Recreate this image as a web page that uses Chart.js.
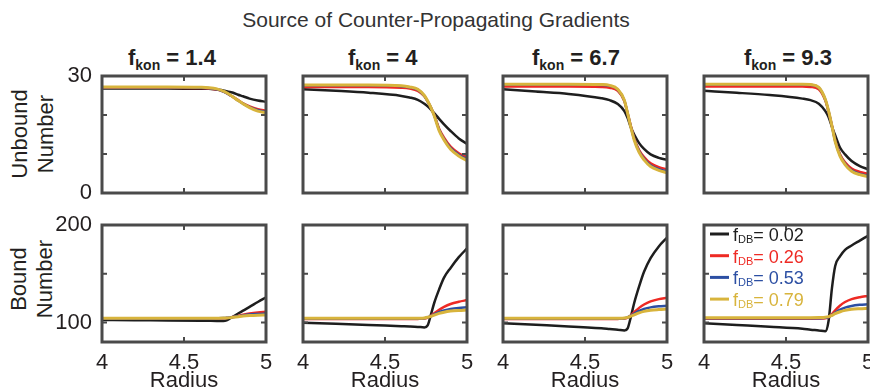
<!DOCTYPE html>
<html>
<head>
<meta charset="utf-8">
<script src="https://cdn.jsdelivr.net/npm/chart.js@4/dist/chart.umd.min.js"></script>
<style>
  html, body { margin: 0; padding: 0; background: #fff; overflow: hidden; }
  body { width: 870px; height: 390px; position: relative; font-family: "Liberation Sans", Arial, Helvetica, sans-serif; color: #231f20; }
  canvas { position: absolute; }
  .txt { position: absolute; font-size: 22px; line-height: 22px; white-space: nowrap; }
  .ptitle { font-weight: bold; }
  .ptitle span { font-size: 14px; position: relative; top: 5px; }
  .ylab { position: absolute; width: 170px; height: 52px; font-size: 22px; line-height: 26px; text-align: center; transform: rotate(-90deg); }
</style>
</head>
<body>
<div class="txt" style="left:0; width:872px; text-align:center; top:9px; font-size:21px; color:#333;">Source of Counter-Propagating Gradients</div>
<div class="ylab" style="left:-52px; top:108px;">Unbound<br>Number</div>
<div class="ylab" style="left:-53px; top:253px;">Bound<br>Number</div>
<div id="titles"></div>

<script>
// shared x values
const radius = [4, 4.2, 4.4, 4.6, 4.65, 4.7, 4.74, 4.76, 4.78, 4.8, 4.83, 4.86, 4.9, 4.95, 5];
const radiusTicks = [4, 4.5, 5];

const fkonValues = ['1.4', '4', '6.7', '9.3'];
const fdbValues = ['0.02', '0.26', '0.53', '0.79'];

const unboundTicks = [0, 10, 20, 30];
const unboundLabels = [0, 30];
const boundTicks = [100, 150, 200];
const boundLabels = [100, 200];

// unbound number, series order: fDB 0.02, 0.26, 0.53, 0.79
const unboundK14 = [
  [26.8, 26.8, 26.8, 26.7, 26.7, 26.5, 26.3, 26.1, 25.9, 25.7, 25.2, 24.8, 24.2, 23.7, 23.4],
  [27.0, 27.0, 27.0, 26.9, 26.8, 26.5, 26.0, 25.6, 25.1, 24.6, 23.8, 23.0, 22.2, 21.5, 21.1],
  [27.1, 27.1, 27.1, 27.0, 26.9, 26.6, 26.0, 25.6, 25.1, 24.6, 23.7, 22.9, 22.0, 21.2, 20.8],
  [27.2, 27.2, 27.2, 27.1, 27.0, 26.7, 26.1, 25.7, 25.2, 24.6, 23.7, 22.9, 21.9, 21.0, 20.6]
];
const unboundK4 = [
  [26.6, 26.2, 25.7, 24.9, 24.5, 23.9, 22.9, 22.2, 21.4, 20.5, 19.0, 17.6, 15.9, 14.0, 12.6],
  [27.2, 27.2, 27.2, 27.0, 26.8, 26.2, 24.8, 23.5, 21.9, 20.0, 16.5, 14.2, 11.9, 10.2, 9.2],
  [27.6, 27.6, 27.6, 27.4, 27.1, 26.5, 24.9, 23.5, 21.9, 19.9, 16.2, 13.8, 11.5, 9.8, 8.6],
  [27.7, 27.7, 27.7, 27.5, 27.2, 26.6, 25.0, 23.6, 21.9, 19.8, 16.0, 13.6, 11.2, 9.5, 8.3]
];
const unboundK67 = [
  [26.6, 26.0, 25.4, 24.3, 23.8, 22.8, 21.0, 19.2, 16.8, 15.0, 12.8, 11.3, 9.9, 9.0, 8.5],
  [27.3, 27.3, 27.3, 27.2, 27.0, 26.2, 23.6, 20.4, 17.1, 14.0, 11.0, 9.2, 7.6, 6.6, 6.1],
  [27.8, 27.8, 27.8, 27.7, 27.5, 26.5, 23.7, 20.4, 16.9, 13.8, 10.7, 8.8, 7.1, 6.1, 5.5],
  [27.9, 27.9, 27.9, 27.8, 27.6, 26.6, 23.8, 20.4, 16.8, 13.6, 10.4, 8.5, 6.8, 5.8, 5.2]
];
const unboundK93 = [
  [26.2, 25.7, 25.1, 24.2, 23.8, 22.9, 21.0, 19.4, 17.0, 14.8, 11.6, 9.9, 8.2, 6.9, 6.1],
  [27.3, 27.3, 27.3, 27.3, 27.2, 26.6, 23.7, 20.8, 17.3, 13.5, 9.9, 7.9, 6.3, 5.4, 4.9],
  [27.8, 27.8, 27.8, 27.8, 27.7, 27.0, 23.9, 20.9, 17.2, 13.3, 9.6, 7.5, 5.8, 4.9, 4.4],
  [27.9, 27.9, 27.9, 27.9, 27.8, 27.1, 24.0, 21.0, 17.2, 13.2, 9.4, 7.3, 5.6, 4.7, 4.2]
];

// bound number
const boundK14 = [
  [102.6, 102.3, 102.1, 101.8, 101.7, 101.6, 101.5, 102.2, 104.2, 106.2, 109.2, 112.1, 116.0, 121.0, 125.8],
  [104.0, 104.0, 104.0, 104.0, 104.0, 104.1, 104.3, 104.6, 105.0, 105.6, 106.7, 107.9, 109.2, 110.3, 111.0],
  [104.2, 104.2, 104.2, 104.2, 104.2, 104.3, 104.5, 104.8, 105.1, 105.6, 106.4, 107.3, 108.2, 108.8, 109.2],
  [104.3, 104.3, 104.3, 104.3, 104.3, 104.4, 104.5, 104.7, 105.0, 105.4, 106.0, 106.6, 107.1, 107.5, 107.7]
];
const boundK4 = [
  [99.8, 98.6, 97.4, 96.2, 95.9, 95.5, 95.0, 97.0, 108.0, 120.0, 134.0, 146.0, 156.0, 167.0, 176.0],
  [103.6, 103.6, 103.6, 103.6, 103.6, 103.7, 104.0, 105.0, 107.0, 109.5, 113.0, 116.0, 119.0, 121.3, 123.0],
  [104.0, 104.0, 104.0, 104.0, 104.0, 104.1, 104.4, 105.2, 106.6, 108.3, 110.6, 112.3, 113.9, 115.0, 115.6],
  [104.3, 104.3, 104.3, 104.3, 104.3, 104.4, 104.7, 105.3, 106.3, 107.6, 109.3, 110.6, 111.7, 112.4, 112.8]
];
const boundK67 = [
  [99.2, 97.6, 96.0, 94.0, 93.3, 92.6, 91.8, 94.0, 106.0, 120.0, 137.0, 152.0, 166.0, 178.0, 187.0],
  [103.6, 103.6, 103.6, 103.6, 103.6, 103.7, 104.0, 105.0, 107.5, 110.5, 115.0, 118.5, 121.7, 124.0, 125.4],
  [104.0, 104.0, 104.0, 104.0, 104.0, 104.1, 104.4, 105.3, 107.0, 109.0, 111.8, 113.8, 115.5, 116.6, 117.2],
  [104.3, 104.3, 104.3, 104.3, 104.3, 104.4, 104.7, 105.3, 106.5, 107.9, 109.9, 111.4, 112.6, 113.3, 113.8]
];
const boundK93 = [
  [99.2, 97.4, 95.6, 93.6, 92.6, 91.8, 91.0, 102.0, 135.0, 158.0, 168.0, 174.5, 179.0, 184.0, 189.0],
  [103.9, 103.9, 103.9, 103.9, 103.9, 104.0, 104.4, 105.5, 108.5, 112.5, 117.5, 121.0, 124.0, 126.0, 127.2],
  [104.3, 104.3, 104.3, 104.3, 104.3, 104.4, 104.8, 105.6, 107.6, 110.0, 113.2, 115.3, 117.0, 118.1, 118.7],
  [105.0, 105.0, 105.0, 105.0, 105.0, 105.1, 105.4, 106.0, 107.4, 109.0, 111.0, 112.4, 113.5, 114.1, 114.5]
];

const unboundSets = [unboundK14, unboundK4, unboundK67, unboundK93];
const boundSets = [boundK14, boundK4, boundK67, boundK93];

// styling
const lineColors = ['#1e1e1e', '#ee2a24', '#2c4fa3', '#d8b43c'];
const lineWidths = [2.5, 2.5, 2.5, 3];
const FONT = "'Liberation Sans', Arial, Helvetica, sans-serif";
const TXT = '#231f20';
const colLeft = [102, 303, 503, 704];
const titleLeft = [128, 348, 532, 744];
const PW = 164, PH = 117;
const rowTop = [76, 225];
const YW = 70, PR = 20, PT = 24;

// panel titles f_kon = ...
const titles = document.getElementById('titles');
fkonValues.forEach((k, i) => {
  const d = document.createElement('div');
  d.className = 'txt ptitle';
  d.style.left = titleLeft[i] + 'px';
  d.style.top = '47px';
  d.innerHTML = 'f<span>kon</span> = ' + k;
  titles.appendChild(d);
});

// box round the plot area + inward tick marks
const boxPlugin = {
  id: 'box',
  afterDatasetsDraw(chart) {
    const { ctx, chartArea: a, scales: { x, y } } = chart;
    ctx.save();
    ctx.strokeStyle = '#4a4a4a';
    ctx.lineWidth = 2;
    ctx.beginPath();
    x.ticks.forEach(t => {
      const px = x.getPixelForValue(t.value);
      ctx.moveTo(px, a.bottom); ctx.lineTo(px, a.bottom - 5);
      ctx.moveTo(px, a.top); ctx.lineTo(px, a.top + 5);
    });
    y.ticks.forEach(t => {
      const py = y.getPixelForValue(t.value);
      ctx.moveTo(a.left, py); ctx.lineTo(a.left + 5, py);
      ctx.moveTo(a.right, py); ctx.lineTo(a.right - 5, py);
    });
    ctx.stroke();
    ctx.lineWidth = 3;
    ctx.strokeRect(a.left, a.top, a.right - a.left, a.bottom - a.top);
    ctx.restore();
  }
};

// f_DB legend, drawn from the datasets
const legendPlugin = {
  id: 'dbLegend',
  afterDraw(chart) {
    const { ctx, chartArea: a } = chart;
    ctx.save();
    chart.data.datasets.forEach((ds, i) => {
      const yc = a.top + 9 + i * 21.7;
      ctx.strokeStyle = ds.borderColor;
      ctx.lineWidth = 3;
      ctx.beginPath();
      ctx.moveTo(a.left + 6, yc);
      ctx.lineTo(a.left + 25, yc);
      ctx.stroke();
      ctx.fillStyle = ds.borderColor;
      ctx.textBaseline = 'alphabetic';
      const base = yc + 7;
      let x = a.left + 29;
      ctx.font = '18px ' + FONT;
      ctx.fillText('f', x, base);
      x += ctx.measureText('f').width;
      ctx.font = '11px ' + FONT;
      ctx.fillText('DB', x, base + 2);
      x += ctx.measureText('DB').width;
      ctx.font = '18px ' + FONT;
      ctx.fillText('= ' + ds.label, x, base);
    });
    ctx.restore();
  }
};

function makePanel(col, row, series) {
  const bottomRow = row === 1;
  const showY = col === 0;
  const XH = bottomRow ? 52 : 24;
  const cv = document.createElement('canvas');
  cv.width = YW + PW + PR;
  cv.height = PT + PH + XH;
  cv.style.left = (colLeft[col] - YW) + 'px';
  cv.style.top = (rowTop[row] - PT) + 'px';
  document.body.appendChild(cv);

  const yTicks = bottomRow ? boundTicks : unboundTicks;
  const yLabels = bottomRow ? boundLabels : unboundLabels;

  const plugins = [boxPlugin];
  if (bottomRow && col === 3) plugins.push(legendPlugin);

  new Chart(cv, {
    type: 'line',
    data: {
      datasets: series.map((vals, i) => ({
        label: fdbValues[i],
        data: radius.map((r, j) => ({ x: r, y: vals[j] })),
        borderColor: lineColors[i],
        borderWidth: lineWidths[i],
        pointRadius: 0,
        cubicInterpolationMode: 'monotone',
        order: 3 - i
      }))
    },
    options: {
      responsive: false,
      animation: false,
      devicePixelRatio: 1,
      layout: { padding: { left: 0, right: PR, top: PT, bottom: 0 } },
      plugins: { legend: { display: false }, tooltip: { enabled: false } },
      scales: {
        x: {
          type: 'linear',
          min: 4, max: 5,
          afterBuildTicks: s => { s.ticks = radiusTicks.map(v => ({ value: v })); },
          afterFit: s => { s.height = XH; },
          grid: { display: false, drawTicks: true, tickLength: 8 },
          border: { display: false },
          ticks: {
            display: bottomRow,
            padding: 0,
            maxRotation: 0,
            autoSkip: false,
            color: TXT,
            font: { family: FONT, size: 22 },
            callback: v => String(v)
          },
          title: {
            display: bottomRow,
            text: 'Radius',
            color: TXT,
            font: { family: FONT, size: 22, lineHeight: 1.2 },
            padding: { top: 0, bottom: 0 }
          }
        },
        y: {
          min: bottomRow ? 80 : 0,
          max: bottomRow ? 200 : 30,
          afterBuildTicks: s => { s.ticks = yTicks.map(v => ({ value: v })); },
          afterFit: s => { s.width = YW; },
          grid: { display: false, drawTicks: true, tickLength: 10 },
          border: { display: false },
          ticks: {
            display: showY,
            padding: 0,
            autoSkip: false,
            color: TXT,
            font: { family: FONT, size: 22 },
            callback: v => yLabels.includes(v) ? String(v) : ''
          }
        }
      }
    },
    plugins: plugins
  });
}

for (let c = 0; c < 4; c++) {
  makePanel(c, 0, unboundSets[c]);
  makePanel(c, 1, boundSets[c]);
}
</script>
</body>
</html>
